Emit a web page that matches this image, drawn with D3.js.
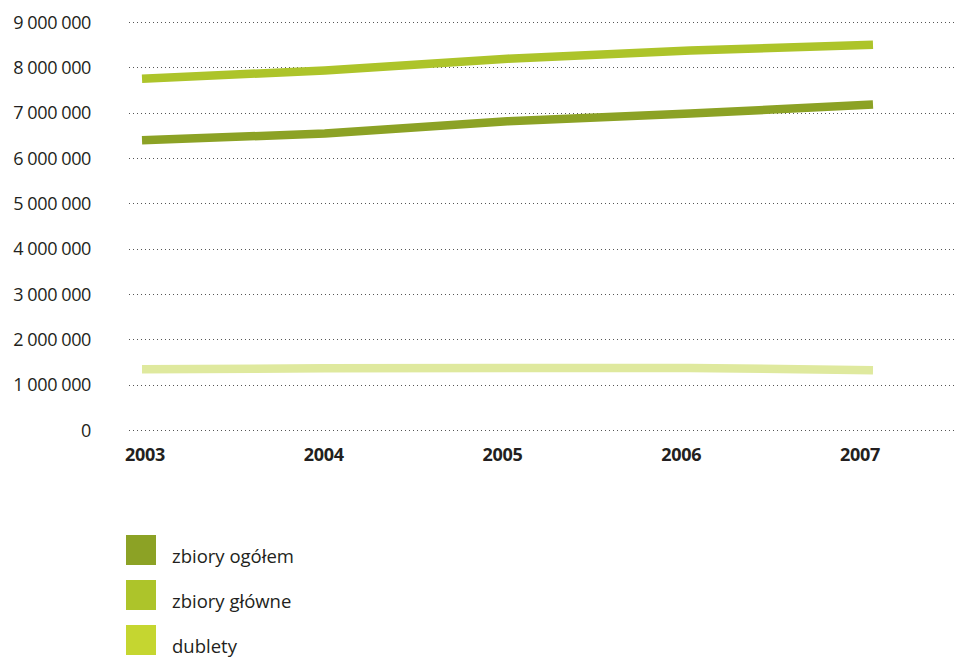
<!DOCTYPE html>
<html><head><meta charset="utf-8">
<script src="https://cdn.jsdelivr.net/npm/d3@7"></script>
<style>body{margin:0;background:#fff}svg{display:block}text{font-family:"Open Sans",sans-serif}</style>
</head><body><svg id="c" width="955" height="659"></svg>
<script>
const years = ["2003","2004","2005","2006","2007"];
const zbioryOgolem = [6390000, 6540000, 6810000, 6980000, 7180000];
const zbioryGlowne = [7750000, 7930000, 8190000, 8370000, 8500000];
const dublety = [1340000, 1360000, 1370000, 1370000, 1320000];
const yTicks = [0,1000000,2000000,3000000,4000000,5000000,6000000,7000000,8000000,9000000];
const legendLabels = ["zbiory ogółem","zbiory główne","dublety"];
const legendColors = ["#8ca225","#adc42a","#c5d630"];
const lineColors = ["#8ca225","#adc42a","#dfe99e"];
const series = [zbioryOgolem, zbioryGlowne, dublety];

const svg = d3.select("#c");
const y = d3.scaleLinear().domain([0,9000000]).range([430,22]);
const xLine = d3.scalePoint().domain(years).range([142,873]);
const xLab = d3.scalePoint().domain(years).range([145,860]);

const fmt = v => d3.format(",")(v).replace(/,/g," ");

// grid
svg.append("g").selectAll("line").data(yTicks).join("line")
  .attr("x1",129).attr("x2",955)
  .attr("y1",d=>Math.round(y(d))+0.5).attr("y2",d=>Math.round(y(d))+0.5)
  .attr("stroke","#555").attr("stroke-width",1).attr("stroke-dasharray","1,3");

// y labels
svg.append("g").selectAll("text").data(yTicks).join("text")
  .attr("x",91).attr("y",d=>y(d)+6.5).attr("text-anchor","end")
  .attr("font-size",18).attr("fill","#231f20").attr("letter-spacing","-0.4")
  .text(d=>d===0?"0":fmt(d));

// x labels
svg.append("g").selectAll("text").data(years).join("text")
  .attr("x",d=>xLab(d)).attr("y",461).attr("text-anchor","middle")
  .attr("font-size",18).attr("font-weight","bold").attr("fill","#231f20").attr("letter-spacing","-0.3")
  .text(d=>d);

// lines
const line = d3.line().x((d,i)=>xLine(years[i])).y(d=>y(d));
[2,0,1].forEach(k=>{
  svg.append("path").datum(series[k]).attr("d",line)
    .attr("fill","none").attr("stroke",lineColors[k]).attr("stroke-width",8.5)
    .attr("stroke-linecap","butt").attr("stroke-linejoin","round");
});

// legend
const lg = svg.append("g").selectAll("g").data(legendLabels).join("g")
  .attr("transform",(d,i)=>`translate(126,${535+i*45})`);
lg.append("rect").attr("width",30).attr("height",30).attr("fill",(d,i)=>legendColors[i]);
lg.append("text").attr("x",46).attr("y",28).attr("font-size",18.5).attr("fill","#231f20").text(d=>d);
</script></body></html>
